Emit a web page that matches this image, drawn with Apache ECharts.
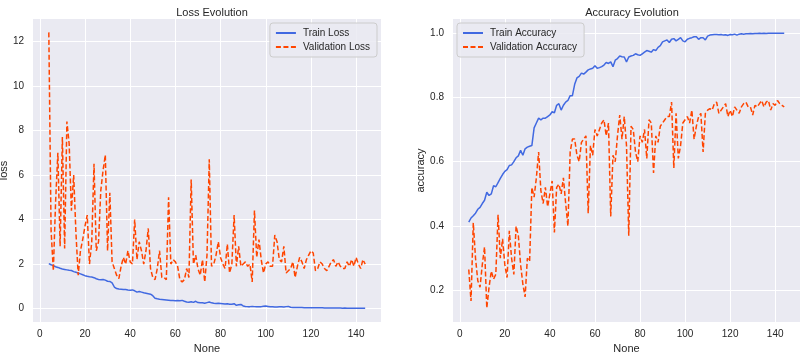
<!DOCTYPE html>
<html><head><meta charset="utf-8">
<script src="https://cdn.jsdelivr.net/npm/echarts@6/dist/echarts.min.js"></script>
<style>html,body{margin:0;padding:0;background:#fff}#c{width:806px;height:354px}</style>
</head><body><div id="c"></div>
<script>
const epochs = [
  4,5,6,7,8,9,10,11,12,13,
  14,15,16,17,18,19,20,21,22,23,
  24,25,26,27,28,29,30,31,32,33,
  34,35,36,37,38,39,40,41,42,43,
  44,45,46,47,48,49,50,51,52,53,
  54,55,56,57,58,59,60,61,62,63,
  64,65,66,67,68,69,70,71,72,73,
  74,75,76,77,78,79,80,81,82,83,
  84,85,86,87,88,89,90,91,92,93,
  94,95,96,97,98,99,100,101,102,103,
  104,105,106,107,108,109,110,111,112,113,
  114,115,116,117,118,119,120,121,122,123,
  124,125,126,127,128,129,130,131,132,133,
  134,135,136,137,138,139,140,141,142,143,
  144];
const trainLoss = [
  2.02,1.97,1.93,1.88,1.85,1.81,1.78,1.76,1.74,1.72,
  1.71,1.66,1.63,1.60,1.56,1.52,1.48,1.45,1.43,1.42,
  1.39,1.34,1.31,1.30,1.31,1.28,1.23,1.22,1.16,0.97,
  0.90,0.88,0.87,0.86,0.86,0.84,0.83,0.84,0.80,0.74,
  0.77,0.74,0.71,0.69,0.67,0.65,0.58,0.47,0.44,0.42,
  0.41,0.40,0.39,0.38,0.37,0.36,0.35,0.36,0.35,0.37,
  0.33,0.30,0.29,0.31,0.28,0.33,0.27,0.26,0.26,0.24,
  0.27,0.30,0.26,0.24,0.23,0.24,0.23,0.22,0.21,0.22,
  0.20,0.20,0.22,0.15,0.17,0.19,0.12,0.10,0.09,0.09,
  0.10,0.09,0.08,0.09,0.09,0.11,0.12,0.10,0.08,0.08,
  0.07,0.07,0.08,0.08,0.07,0.09,0.10,0.06,0.05,0.05,
  0.05,0.05,0.05,0.04,0.04,0.04,0.04,0.04,0.04,0.04,
  0.04,0.04,0.03,0.03,0.03,0.03,0.03,0.03,0.03,0.03,
  0.02,0.03,0.02,0.02,0.02,0.02,0.02,0.02,0.02,0.02,
  0.02];
const valLoss = [
  12.4,3.5,1.7,4.8,7.0,2.8,7.7,2.7,8.4,7.4,
  4.4,6.0,3.4,1.5,2.6,3.1,3.7,4.2,2.0,3.0,
  6.5,2.6,3.0,5.3,6.2,6.9,2.6,5.2,2.1,1.8,
  1.5,1.35,1.9,2.3,2.0,2.6,2.1,2.0,4.0,2.2,
  3.0,2.6,2.0,2.6,3.6,1.8,1.4,1.3,1.8,2.6,
  1.4,1.4,1.3,5.0,2.0,2.2,2.1,1.9,1.3,1.2,
  1.3,1.8,1.4,5.8,2.0,2.4,1.8,1.5,2.2,1.2,
  2.4,6.7,1.9,2.0,2.4,3.0,2.3,2.0,1.8,2.9,
  1.6,2.0,4.2,1.9,2.8,1.9,2.0,2.1,1.9,2.0,
  1.2,4.4,2.3,3.1,2.2,1.6,2.0,2.1,1.9,1.9,
  3.3,3.0,2.2,2.1,2.8,1.6,1.7,1.8,2.1,1.4,
  1.9,2.3,2.1,1.8,2.2,2.4,2.6,2.5,1.7,1.8,
  2.1,2.0,1.8,1.7,1.9,2.1,2.2,1.9,2.1,1.9,
  1.8,1.8,2.1,1.9,2.2,1.9,2.3,2.0,1.8,2.2,
  2.0];
const trainAcc = [
  0.412,0.425,0.432,0.44,0.452,0.458,0.47,0.48,0.505,0.495,
  0.50,0.525,0.522,0.535,0.548,0.56,0.57,0.575,0.588,0.59,
  0.60,0.612,0.618,0.635,0.62,0.64,0.645,0.648,0.65,0.705,
  0.72,0.735,0.73,0.735,0.735,0.74,0.745,0.755,0.752,0.775,
  0.78,0.76,0.775,0.785,0.79,0.805,0.805,0.84,0.86,0.865,
  0.875,0.872,0.878,0.885,0.888,0.89,0.898,0.89,0.892,0.895,
  0.90,0.908,0.905,0.91,0.895,0.915,0.92,0.928,0.926,0.925,
  0.91,0.925,0.928,0.93,0.935,0.932,0.93,0.935,0.94,0.945,
  0.943,0.94,0.948,0.945,0.955,0.96,0.972,0.975,0.978,0.97,
  0.98,0.982,0.975,0.98,0.985,0.975,0.972,0.98,0.983,0.985,
  0.988,0.988,0.98,0.985,0.985,0.978,0.99,0.993,0.994,0.995,
  0.995,0.994,0.995,0.993,0.994,0.992,0.995,0.994,0.996,0.993,
  0.996,0.997,0.996,0.997,0.997,0.998,0.997,0.998,0.998,0.999,
  0.998,0.999,0.998,0.999,0.999,0.999,0.999,0.999,0.999,0.999,
  0.999];
const valAcc = [
  0.265,0.167,0.41,0.30,0.23,0.21,0.28,0.335,0.145,0.21,
  0.26,0.235,0.25,0.435,0.30,0.36,0.28,0.24,0.385,0.30,
  0.25,0.40,0.37,0.28,0.22,0.18,0.30,0.29,0.52,0.49,
  0.55,0.63,0.51,0.47,0.52,0.46,0.50,0.54,0.38,0.52,
  0.53,0.50,0.55,0.47,0.40,0.63,0.67,0.67,0.62,0.60,
  0.66,0.67,0.68,0.44,0.65,0.62,0.70,0.68,0.70,0.72,
  0.73,0.68,0.72,0.43,0.62,0.60,0.68,0.745,0.67,0.74,
  0.65,0.37,0.71,0.70,0.63,0.60,0.68,0.66,0.70,0.61,
  0.73,0.72,0.565,0.68,0.66,0.71,0.72,0.73,0.74,0.74,
  0.785,0.58,0.75,0.61,0.65,0.72,0.73,0.74,0.72,0.76,
  0.67,0.71,0.74,0.75,0.63,0.75,0.76,0.765,0.76,0.78,
  0.785,0.75,0.76,0.77,0.78,0.74,0.76,0.74,0.77,0.76,
  0.75,0.77,0.78,0.785,0.77,0.77,0.745,0.775,0.77,0.78,
  0.79,0.77,0.785,0.79,0.76,0.78,0.775,0.79,0.78,0.775,
  0.77];
const xTicks = [0, 20, 40, 60, 80, 100, 120, 140];
const lossTicks = [0, 2, 4, 6, 8, 10, 12];
const accTicks = [0.2, 0.4, 0.6, 0.8, 1.0];

const pairs = a => epochs.map((e, i) => [e, a[i]]);
const BG = '#EAEAF2', TXT = '#262626', FONT = 'Liberation Sans, Arial, sans-serif';
const BLUE = '#4169E1', ORANGE = '#FF4500';

function xAx(gi) {
  return {
    type: 'value', gridIndex: gi, min: -3, max: 151,
    name: 'None', nameLocation: 'middle', nameGap: 20,
    nameTextStyle: {color: TXT, fontSize: 11, fontFamily: FONT},
    axisLine: {show: false},
    axisTick: {show: false, customValues: xTicks},
    axisLabel: {color: TXT, fontSize: 10, fontFamily: FONT, margin: 7, customValues: xTicks},
    splitLine: {show: true, lineStyle: {color: '#ffffff', width: 1}}
  };
}
function yAx(gi, min, max, ticks, name, gap, fmt) {
  return {
    type: 'value', gridIndex: gi, min: min, max: max,
    name: name, nameLocation: 'middle', nameGap: gap,
    nameTextStyle: {color: TXT, fontSize: 11, fontFamily: FONT},
    axisLine: {show: false},
    axisTick: {show: false, customValues: ticks},
    axisLabel: {color: TXT, fontSize: 10, fontFamily: FONT, margin: 9, customValues: ticks, formatter: fmt},
    splitLine: {show: true, lineStyle: {color: '#ffffff', width: 1}}
  };
}
const legendCommon = {
  orient: 'vertical', top: 23, itemWidth: 20, itemHeight: 10, itemGap: 4,
  padding: [5, 7, 5, 5], backgroundColor: 'rgba(234,234,242,0.85)',
  borderColor: '#cccccc', borderWidth: 1, borderRadius: 3,
  itemStyle: {opacity: 0},
  textStyle: {color: TXT, fontSize: 10, fontFamily: FONT, padding: [0, 0, 0, 2]}
};

const chart = echarts.init(document.getElementById('c'), null, {renderer: 'canvas'});
chart.setOption({
  animation: false,
  backgroundColor: '#ffffff',
  title: [
    {text: 'Loss Evolution', left: 207, top: 2, textAlign: 'center',
     textStyle: {color: TXT, fontSize: 11, fontWeight: 'normal', fontFamily: FONT}},
    {text: 'Accuracy Evolution', left: 627, top: 2, textAlign: 'center',
     textStyle: {color: TXT, fontSize: 11, fontWeight: 'normal', fontFamily: FONT}}
  ],
  legend: [
    Object.assign({}, legendCommon, {data: ['Train Loss', 'Validation Loss'], right: 429}),
    Object.assign({}, legendCommon, {data: ['Train Accuracy', 'Validation Accuracy'], left: 457})
  ],
  grid: [
    {left: 33, right: 425, top: 19, bottom: 32, show: true, backgroundColor: BG, borderWidth: 0,
     containLabel: false, outerBoundsMode: 'none'},
    {left: 453, right: 6, top: 19, bottom: 32, show: true, backgroundColor: BG, borderWidth: 0,
     containLabel: false, outerBoundsMode: 'none'}
  ],
  xAxis: [xAx(0), xAx(1)],
  yAxis: [
    yAx(0, -0.6, 13, lossTicks, 'loss', 24, v => String(Math.round(v))),
    yAx(1, 0.102, 1.043, accTicks, 'accuracy', 27, v => v.toFixed(1))
  ],
  series: [
    {name: 'Train Loss', type: 'line', xAxisIndex: 0, yAxisIndex: 0, data: pairs(trainLoss),
     symbol: 'none', lineStyle: {color: BLUE, width: 1.5}, itemStyle: {color: BLUE}},
    {name: 'Validation Loss', type: 'line', xAxisIndex: 0, yAxisIndex: 0, data: pairs(valLoss),
     symbol: 'none', lineStyle: {color: ORANGE, width: 1.5, type: [5, 2.5]}, itemStyle: {color: ORANGE}},
    {name: 'Train Accuracy', type: 'line', xAxisIndex: 1, yAxisIndex: 1, data: pairs(trainAcc),
     symbol: 'none', lineStyle: {color: BLUE, width: 1.5}, itemStyle: {color: BLUE}},
    {name: 'Validation Accuracy', type: 'line', xAxisIndex: 1, yAxisIndex: 1, data: pairs(valAcc),
     symbol: 'none', lineStyle: {color: ORANGE, width: 1.5, type: [5, 2.5]}, itemStyle: {color: ORANGE}}
  ]
});
</script></body></html>
